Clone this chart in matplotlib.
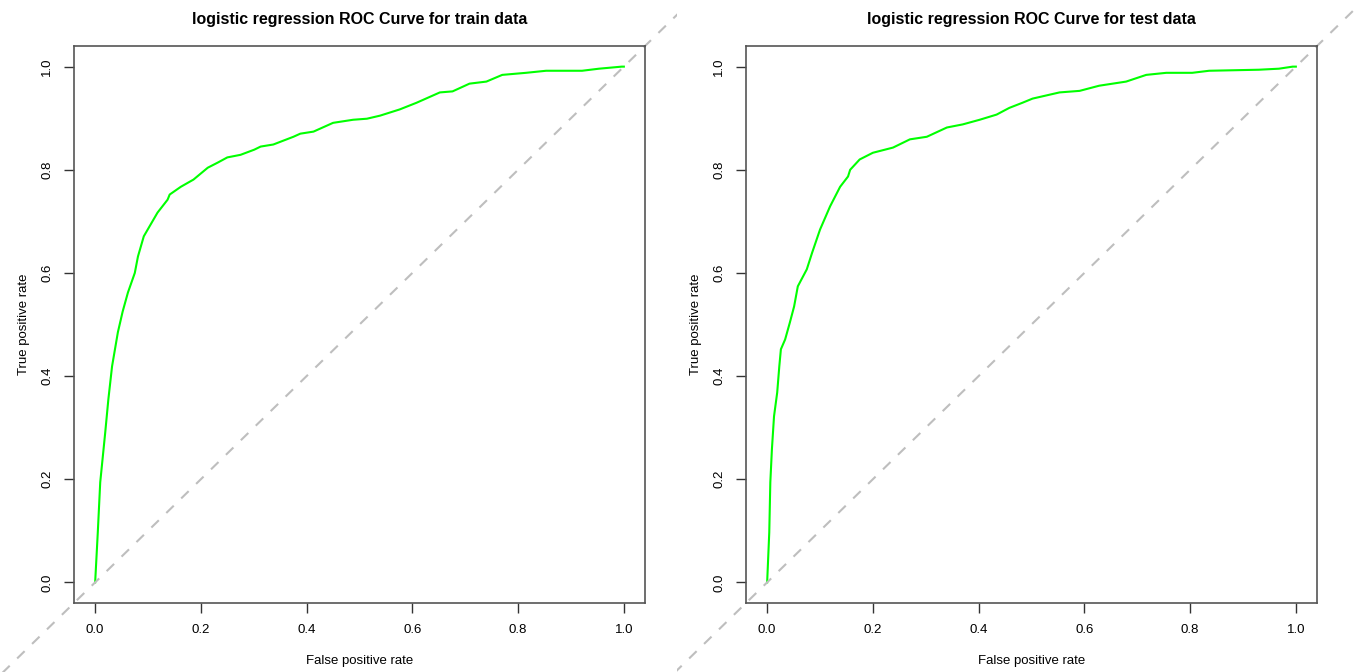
import matplotlib
matplotlib.use("Agg")
import matplotlib.pyplot as plt
from matplotlib.patches import Rectangle

plt.rcParams['font.family'] = ['Liberation Sans', 'DejaVu Sans']

# ROC curve (false positive rate, true positive rate)
train_fpr = [0.0, 0.005, 0.0096, 0.019, 0.025, 0.032, 0.043, 0.052, 0.062, 0.075,
             0.081, 0.092, 0.118, 0.137, 0.141, 0.162, 0.186, 0.213, 0.232, 0.250,
             0.275, 0.301, 0.313, 0.337, 0.375, 0.388, 0.413, 0.450, 0.488, 0.514,
             0.539, 0.576, 0.608, 0.652, 0.676, 0.708, 0.740, 0.770, 0.815, 0.853,
             0.921, 0.953, 0.996, 1.0]
train_tpr = [0.0, 0.097, 0.194, 0.29, 0.355, 0.419, 0.485, 0.525, 0.562, 0.60,
             0.632, 0.671, 0.717, 0.742, 0.752, 0.767, 0.781, 0.804, 0.814, 0.824,
             0.829, 0.839, 0.845, 0.849, 0.864, 0.870, 0.874, 0.891, 0.897, 0.899,
             0.905, 0.917, 0.930, 0.950, 0.952, 0.967, 0.971, 0.984, 0.988, 0.992,
             0.992, 0.996, 1.0, 1.0]

test_fpr = [0.0, 0.004, 0.006, 0.009, 0.013, 0.019, 0.023, 0.026, 0.034, 0.043,
            0.051, 0.058, 0.075, 0.085, 0.100, 0.119, 0.138, 0.153, 0.157, 0.175,
            0.200, 0.238, 0.270, 0.302, 0.340, 0.370, 0.402, 0.434, 0.458, 0.483,
            0.502, 0.553, 0.591, 0.628, 0.679, 0.717, 0.755, 0.804, 0.836, 0.930,
            0.968, 0.994, 1.0]
test_tpr = [0.0, 0.097, 0.194, 0.258, 0.322, 0.368, 0.419, 0.452, 0.471, 0.504,
            0.535, 0.574, 0.607, 0.639, 0.684, 0.729, 0.767, 0.787, 0.800, 0.820,
            0.833, 0.843, 0.859, 0.864, 0.882, 0.888, 0.897, 0.907, 0.920, 0.930,
            0.938, 0.950, 0.953, 0.963, 0.971, 0.984, 0.988, 0.988, 0.992, 0.994,
            0.996, 1.0, 1.0]

titles = ['logistic regression ROC Curve for train data',
          'logistic regression ROC Curve for test data']
ticks = [0.0, 0.2, 0.4, 0.6, 0.8, 1.0]
tick_labels = ['0.0', '0.2', '0.4', '0.6', '0.8', '1.0']

W, H = 1354, 672
fig = plt.figure(figsize=(W / 100, H / 100), dpi=100)

panels = [(74, train_fpr, train_tpr, 0.0), (746, test_fpr, test_tpr, 0.5)]
for i, (left_px, fpr, tpr, fx) in enumerate(panels):
    ax = fig.add_axes([left_px / W, (H - 603) / H, 571 / W, 557 / H])
    ax.plot(fpr, tpr, color='#00ff00', lw=1.5)
    # diagonal drawn across the whole panel, like abline with xpd
    diag, = ax.plot([-1, 2], [-1, 2], color='#bebebe', lw=1.5, dashes=(5, 5))
    diag.set_clip_path(Rectangle((fx, 0), 0.5, 1, transform=fig.transFigure))

    ax.set_xlim(-0.04, 1.04)
    ax.set_ylim(-0.04, 1.04)
    ax.set_xticks(ticks)
    ax.set_xticklabels(tick_labels)
    ax.set_yticks(ticks)
    ax.set_yticklabels(tick_labels, rotation=90, va='center')
    ax.tick_params(length=7, width=1, color='#333333', labelsize=9.5, pad=8)
    for s in ax.spines.values():
        s.set_color('#555555')
        s.set_linewidth(1.2)
    ax.set_xlabel('False positive rate', fontsize=9.5, labelpad=14)
    ax.set_ylabel('True positive rate', fontsize=9.5, labelpad=8)
    ax.set_title(titles[i], fontsize=11.5, fontweight='bold', pad=16)

fig.savefig('out.png', dpi=100)
